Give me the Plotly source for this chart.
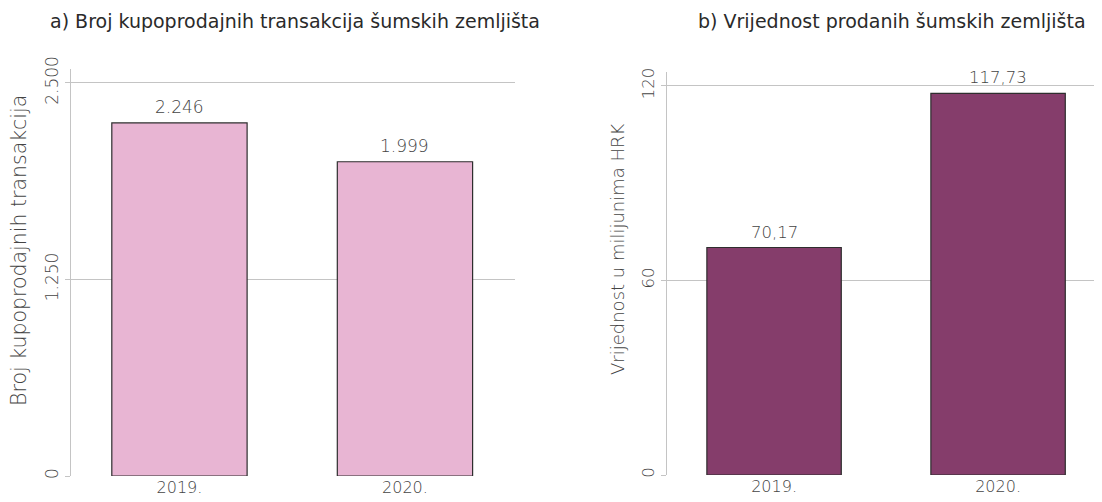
import plotly.graph_objects as go

years = ["2019.", "2020."]
transactions = [2246, 1999]
value_mhrk = [70.17, 117.73]
transactions_labels = ["2.246", "1.999"]
value_labels = ["70,17", "117,73"]

left_ticks = [0, 1250, 2500]
right_ticks = [0, 60, 120]

# page has an 8px body margin, so the figure is drawn 8px smaller and shifted
OFF = 8
W, H = 1102 - OFF, 502 - OFF
FONT = "DejaVu Sans"
GRID = "#c4c4c4"
TXT = "#444444"
LIGHT = 200


def px(x):
    return (x - OFF) / W


def py(y):
    return 1 - (y - OFF) / H


fig = go.Figure()
fig.add_trace(go.Bar(
    x=years, y=transactions, width=0.6, xaxis="x", yaxis="y",
    marker=dict(color="#e8b5d3", line=dict(color="#2e2e2e", width=1.2)),
))
fig.add_trace(go.Bar(
    x=years, y=value_mhrk, width=0.6, xaxis="x2", yaxis="y2",
    marker=dict(color="#853d6b", line=dict(color="#2e2e2e", width=1.2)),
))

axis_common = dict(
    showline=True, linecolor=GRID, linewidth=1.3, automargin=False,
    showgrid=True, gridcolor=GRID, gridwidth=1.3, zeroline=False,
    ticks="outside", ticklen=5, tickcolor=GRID, tickwidth=1.3,
    tickangle=-90,
)
xcommon = dict(
    type="category", showline=False, ticks="", showgrid=False, automargin=False,
)

annotations = [
    dict(text="a) Broj kupoprodajnih transakcija šumskih zemljišta", x=px(295), y=py(21),
         xref="paper", yref="paper", showarrow=False, xanchor="center", yanchor="middle",
         font=dict(family=FONT, size=19, color="#2a2a2a")),
    dict(text="b) Vrijednost prodanih šumskih zemljišta", x=px(892), y=py(21),
         xref="paper", yref="paper", showarrow=False, xanchor="center", yanchor="middle",
         font=dict(family=FONT, size=19, color="#2a2a2a")),
    dict(text="Broj kupoprodajnih transakcija", x=px(19), y=py(251), textangle=-90,
         xref="paper", yref="paper", showarrow=False, xanchor="center", yanchor="middle",
         font=dict(family=FONT, size=20.5, color=TXT, weight=LIGHT)),
    dict(text="Vrijednost u milijunima HRK", x=px(617), y=py(249), textangle=-90,
         xref="paper", yref="paper", showarrow=False, xanchor="center", yanchor="middle",
         font=dict(family=FONT, size=18, color=TXT, weight=LIGHT)),
]
# value labels placed on the category axes by category index
for i, (yv, lab) in enumerate(zip(transactions, transactions_labels)):
    annotations.append(dict(text=lab, x=i, y=yv, xref="x", yref="y", showarrow=False,
                            xanchor="center", yanchor="bottom", yshift=4,
                            font=dict(family=FONT, size=17, color=TXT, weight=LIGHT)))
for i, (yv, lab) in enumerate(zip(value_mhrk, value_labels)):
    annotations.append(dict(text=lab, x=i, y=yv, xref="x2", yref="y2", showarrow=False,
                            xanchor="center", yanchor="bottom", yshift=4,
                            font=dict(family=FONT, size=16.5, color=TXT, weight=LIGHT)))

fig.update_layout(
    width=W, height=H,
    margin=dict(l=0, r=0, t=0, b=0, autoexpand=False),
    paper_bgcolor="white", plot_bgcolor="white",
    showlegend=False, separators=",.",
    xaxis=dict(domain=[px(71), px(515)], range=[-0.481, 1.488],
               tickfont=dict(family=FONT, size=16, color=TXT, weight=LIGHT), **xcommon),
    yaxis=dict(domain=[py(476), py(69)], range=[0, 2589], tickvals=left_ticks,
               separatethousands=True, tickformat=",d",
               tickfont=dict(family=FONT, size=17, color=TXT, weight=LIGHT), **axis_common),
    xaxis2=dict(domain=[px(667), px(1100)], range=[-0.478, 1.455], anchor="y2",
                tickfont=dict(family=FONT, size=16, color=TXT, weight=LIGHT), **xcommon),
    yaxis2=dict(domain=[py(475), py(72)], range=[0, 124.3], tickvals=right_ticks,
                anchor="x2",
                tickfont=dict(family=FONT, size=16.5, color=TXT, weight=LIGHT), **axis_common),
    annotations=annotations,
)
fig.write_html("out.html")
